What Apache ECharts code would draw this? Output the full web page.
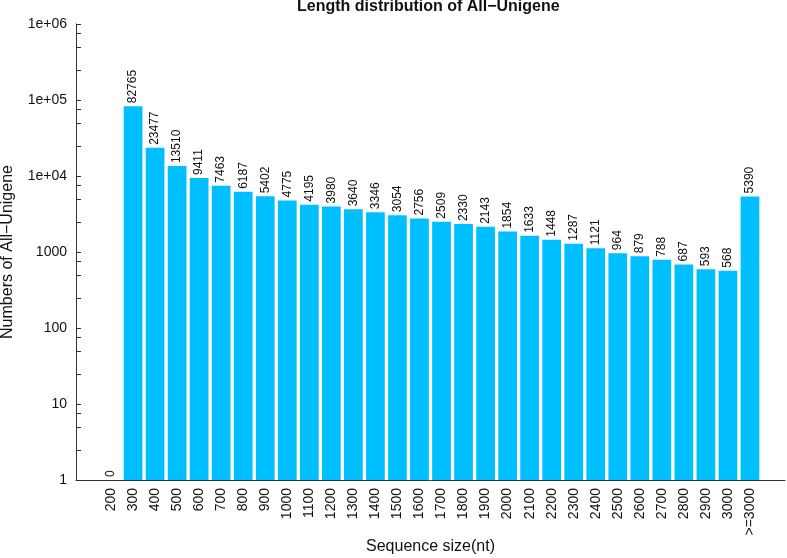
<!DOCTYPE html>
<html>
<head>
<meta charset="utf-8">
<script src="https://cdn.jsdelivr.net/npm/echarts@6/dist/echarts.min.js"></script>
<style>
  html, body { margin: 0; padding: 0; background: #fff; }
  #main { width: 787px; height: 558px; }
</style>
</head>
<body>
<div id="main"></div>
<script>
var sizes = ['200', '300', '400', '500', '600', '700', '800', '900', '1000', '1100',
  '1200', '1300', '1400', '1500', '1600', '1700', '1800', '1900', '2000', '2100',
  '2200', '2300', '2400', '2500', '2600', '2700', '2800', '2900', '3000', '>=3000'];
var counts = [0, 82765, 23477, 13510, 9411, 7463, 6187, 5402, 4775, 4195,
  3980, 3640, 3346, 3054, 2756, 2509, 2330, 2143, 1854, 1633,
  1448, 1287, 1121, 964, 879, 788, 687, 593, 568, 5390];
var yTickLabels = ['1', '10', '100', '1000', '1e+04', '1e+05', '1e+06'];
var minorSteps = [2.5, 5, 7.5];

var font = 'Liberation Sans, Arial, Helvetica, sans-serif';

// tick positions: each decade plus 2.5, 5, 7.5 within it
var tickValues = [];
for (var d = 0; d < yTickLabels.length; d++) {
  var base = Math.pow(10, d);
  tickValues.push(base);
  if (d < yTickLabels.length - 1) {
    minorSteps.forEach(function (s) { tickValues.push(s * base); });
  }
}

var chart = echarts.init(document.getElementById('main'), null, { renderer: 'canvas' });

var option = {
  animation: false,
  backgroundColor: '#fff',
  title: {
    text: 'Length distribution of All\u2212Unigene',
    left: 297,
    top: -1,
    padding: 0,
    textStyle: { fontFamily: font, fontSize: 16, fontWeight: 'bold', color: '#111' }
  },
  grid: [
    { left: 100, right: 26, top: 24, bottom: 78, outerBoundsMode: 'none', containLabel: false },
    { left: 76, right: 2, top: 24, bottom: 78, outerBoundsMode: 'none', containLabel: false }
  ],
  xAxis: [{
    type: 'category',
    gridIndex: 0,
    data: sizes,
    axisLine: { show: false },
    axisTick: { show: false },
    axisLabel: {
      rotate: 90,
      margin: 8,
      interval: 0,
      fontFamily: font,
      fontSize: 14,
      color: '#111'
    }
  }, {
    type: 'value',
    gridIndex: 1,
    min: 0,
    max: 1,
    axisLine: { show: true, onZero: false, lineStyle: { color: '#333', width: 1 } },
    axisTick: { show: false },
    axisLabel: { show: false },
    splitLine: { show: false },
    name: 'Sequence size(nt)',
    nameLocation: 'middle',
    nameGap: 59,
    nameTextStyle: { fontFamily: font, fontSize: 16, color: '#111' }
  }],
  yAxis: [{
    type: 'log',
    gridIndex: 0,
    logBase: 10,
    min: 1,
    max: 1e6,
    offset: 24,
    axisLine: { show: true, lineStyle: { color: '#333', width: 1 } },
    axisTick: {
      show: true,
      inside: true,
      length: 5,
      customValues: tickValues,
      lineStyle: { color: '#333' }
    },
    axisLabel: {
      margin: 9,
      fontFamily: font,
      fontSize: 14,
      color: '#111',
      formatter: function (v) {
        return yTickLabels[Math.round(Math.log10(v))];
      }
    },
    splitLine: { show: false },
    name: 'Numbers of All\u2212Unigene',
    nameLocation: 'middle',
    nameGap: 60,
    nameTextStyle: { fontFamily: font, fontSize: 16, color: '#111' }
  }, {
    type: 'value',
    gridIndex: 1,
    show: false
  }],
  series: [{
    type: 'bar',
    xAxisIndex: 0,
    yAxisIndex: 0,
    barCategoryGap: '15%',
    data: counts.map(function (v) { return Math.max(v, 1); }),
    itemStyle: { color: '#00BFFF' },
    label: {
      show: true,
      position: 'top',
      rotate: 90,
      align: 'left',
      verticalAlign: 'middle',
      distance: 3,
      fontFamily: font,
      fontSize: 12,
      color: '#111',
      formatter: function (p) { return String(counts[p.dataIndex]); }
    }
  }]
};

chart.setOption(option);
</script>
</body>
</html>
